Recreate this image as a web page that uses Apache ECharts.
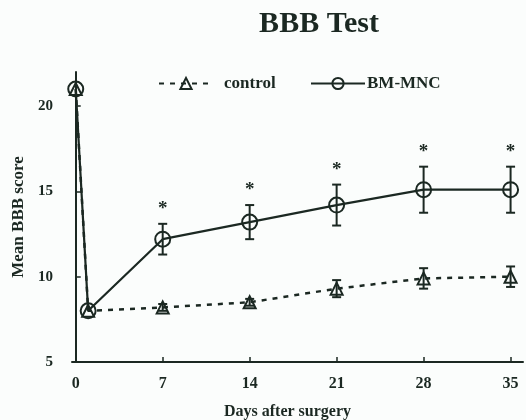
<!DOCTYPE html>
<html>
<head>
<meta charset="utf-8">
<script src="https://cdn.jsdelivr.net/npm/echarts@6/dist/echarts.min.js"></script>
<style>
html,body{margin:0;padding:0;background:#fbfdfc;}
#chart{width:526px;height:420px;}
</style>
</head>
<body>
<div id="chart"></div>
<script>
// ---- data ----
const days = [0, 1, 7, 14, 21, 28, 35];
const controlMean = [21.0, 8.0, 8.2, 8.5, 9.3, 9.9, 10.0];
const controlErr  = [0, 0, 0.2, 0.2, 0.5, 0.6, 0.6];
const bmMean = [21.0, 8.0, 12.2, 13.2, 14.2, 15.1, 15.1];
const bmErr  = [0, 0, 0.9, 1.0, 1.2, 1.35, 1.35];
const bmSignificant = [false, false, true, true, true, true, true];
const xTicks = [0, 7, 14, 21, 28, 35];
const yTicks = [5, 10, 15, 20];

const ink = '#1b2822';
const font = '"Liberation Serif", "DejaVu Serif", serif';

function pairs(means) { return days.map((d, i) => [d, means[i]]); }
function errData(means, errs, sig) {
  return days.map((d, i) => [d, means[i], errs[i], sig ? (sig[i] ? 1 : 0) : 0]);
}

function errRender(params, api) {
  const x = api.value(0), m = api.value(1), e = api.value(2), s = api.value(3);
  const children = [];
  if (e > 0) {
    const top = api.coord([x, m + e]);
    const bot = api.coord([x, m - e]);
    const cap = 4.5;
    const st = { stroke: ink, lineWidth: 2 };
    children.push({ type: 'line', shape: { x1: top[0], y1: top[1], x2: bot[0], y2: bot[1] }, style: st });
    children.push({ type: 'line', shape: { x1: top[0] - cap, y1: top[1], x2: top[0] + cap, y2: top[1] }, style: st });
    children.push({ type: 'line', shape: { x1: bot[0] - cap, y1: bot[1], x2: bot[0] + cap, y2: bot[1] }, style: st });
    if (s) {
      children.push({ type: 'text', x: top[0], y: top[1] - 5,
        style: { text: '*', fill: ink, font: 'bold 19px ' + font, align: 'center', verticalAlign: 'bottom' } });
    }
  }
  return { type: 'group', children };
}

const chart = echarts.init(document.getElementById('chart'));
chart.setOption({
  backgroundColor: '#fbfdfc',
  animation: false,
  title: {
    text: 'BBB Test', left: 314, top: 4, textAlign: 'center',
    textStyle: { fontFamily: font, fontWeight: 'bold', fontSize: 30, color: ink }
  },
  legend: [
    { data: ['control'], left: 153, top: 70, itemWidth: 54, itemHeight: 14,
      textStyle: { fontFamily: font, fontWeight: 'bold', fontSize: 17, color: ink, padding: [0, 0, 0, 6] } },
    { data: ['BM-MNC'], left: 305, top: 70, itemWidth: 54, itemHeight: 14,
      textStyle: { fontFamily: font, fontWeight: 'bold', fontSize: 17, color: ink, padding: [0, 0, 0, -3] } }
  ],
  grid: { left: 72, right: 3, top: 72, bottom: 58, containLabel: false, outerBoundsMode: 'none' },
  xAxis: {
    type: 'value', min: -0.3, max: 36,
    name: 'Days after surgery', nameLocation: 'middle', nameGap: 42,
    nameTextStyle: { fontFamily: font, fontWeight: 'bold', fontSize: 16, color: ink, padding: [0, 20, 0, 0] },
    axisLine: { lineStyle: { color: ink, width: 2 } },
    axisTick: { inside: true, length: 5, lineStyle: { color: ink, width: 1.5 }, customValues: xTicks },
    axisLabel: { customValues: xTicks, margin: 14, fontFamily: font, fontWeight: 'bold', fontSize: 16, color: ink },
    splitLine: { show: false }
  },
  yAxis: {
    type: 'value', min: 5, max: 22,
    name: 'Mean BBB score', nameLocation: 'middle', nameGap: 45,
    nameTextStyle: { fontFamily: font, fontWeight: 'bold', fontSize: 17, color: ink },
    axisLine: { show: true, lineStyle: { color: ink, width: 2 } },
    axisTick: { show: true, inside: true, length: 5, lineStyle: { color: ink, width: 1.5 }, customValues: yTicks },
    axisLabel: { customValues: yTicks, margin: 19, fontFamily: font, fontWeight: 'bold', fontSize: 15, color: ink },
    splitLine: { show: false }
  },
  series: [
    {
      name: 'control', type: 'line', data: pairs(controlMean), z: 3,
      symbol: 'triangle', symbolSize: 12,
      lineStyle: { color: ink, width: 2.5, type: [5, 6] },
      itemStyle: { color: 'rgba(0,0,0,0)', borderColor: ink, borderWidth: 2 }
    },
    {
      name: 'control-err', type: 'custom', data: errData(controlMean, controlErr, null),
      renderItem: errRender, z: 2, silent: true
    },
    {
      name: 'BM-MNC', type: 'line', data: pairs(bmMean), z: 4,
      symbol: 'circle', symbolSize: 15,
      lineStyle: { color: ink, width: 2.2, type: 'solid' },
      itemStyle: { color: 'rgba(0,0,0,0)', borderColor: ink, borderWidth: 2 }
    },
    {
      name: 'BM-err', type: 'custom', data: errData(bmMean, bmErr, bmSignificant),
      renderItem: errRender, z: 2, silent: true
    }
  ]
});
</script>
</body>
</html>
